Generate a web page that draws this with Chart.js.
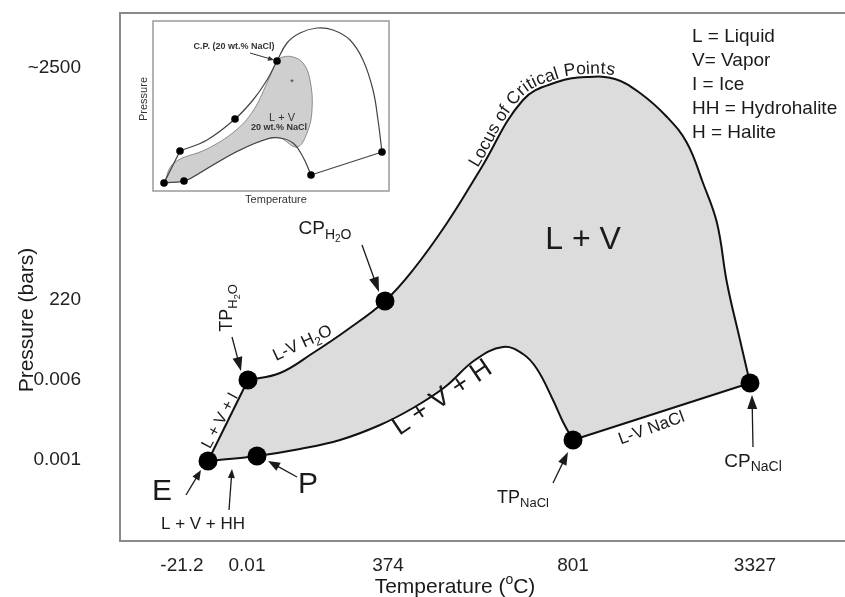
<!DOCTYPE html>
<html>
<head>
<meta charset="utf-8">
<script src="https://cdn.jsdelivr.net/npm/chart.js@4.4.1/dist/chart.umd.min.js"></script>
<style>
  body { margin: 0; background: #fff; }
  #wrap { position: relative; width: 845px; height: 597px; }
  #main { position: absolute; left: 0; top: 0; }
  #inset { position: absolute; left: 128px; top: 8px; }
</style>
</head>
<body>
<div id="wrap">
  <canvas id="main" width="845" height="597"></canvas>
  <canvas id="inset" width="272" height="205"></canvas>
</div>
<script>
// schematic axes (not to scale): one unit = 5 px of the original figure
const tempTicks = [12.4, 25.4, 53.6, 90.6, 127.0];
const tempLabels = ["-21.2", "0.01", "374", "801", "3327"];
const presTicks = [16.2, 32.2, 48.2, 94.6];
const presLabels = ["0.001", "0.006", "220", "~2500"];

// E -> TP H2O  (L + V + I)
const iceLine = [[17.6, 16.0], [25.6, 32.2]];
// TP H2O -> CP H2O -> locus of critical points -> CP NaCl
const criticalCurve = [
  [25.6, 32.2], [32.0, 33.6], [38.6, 37.6], [45.4, 42.2], [53.0, 48.0],
  [58.6, 54.2], [65.4, 63.6], [72.0, 74.2], [80.6, 88.2], [87.4, 91.8],
  [93.4, 92.8], [99.0, 92.4], [104.0, 89.6], [109.4, 84.8], [113.4, 79.6],
  [116.6, 71.6], [119.4, 63.6], [121.4, 51.6], [124.0, 40.2], [126.0, 31.6]
];
// CP NaCl -> TP NaCl  (L-V NaCl)
const naclLine = [[126.0, 31.6], [90.6, 20.2]];
// TP NaCl -> P -> E  (L + V + H)
const haliteCurve = [
  [90.6, 20.2], [88.6, 23.8], [86.6, 28.2], [83.4, 34.4], [80.6, 37.4],
  [76.6, 38.8], [71.0, 36.2], [65.0, 30.8], [58.6, 26.6], [52.0, 23.2],
  [44.0, 20.2], [36.0, 18.4], [27.4, 17.0], [17.6, 16.0]
];
// E, P, TP H2O, CP H2O, TP NaCl, CP NaCl
const keyPoints = [[17.6, 16.0], [27.4, 17.0], [25.6, 32.2], [53.0, 48.0], [90.6, 20.2], [126.0, 31.6]];

// inset (20 wt.% NaCl), units = px inside the inset frame
const insetUpper = [
  [27, 40], [54, 51], [82, 72], [100, 91], [114, 111], [124, 130], [134, 148],
  [147, 158], [164, 163], [180, 161], [197, 151], [210, 131], [220, 101],
  [225, 71], [229, 39]
];
const insetNaclLine = [[229, 39], [158, 16]];
const insetLower = [
  [158, 16], [150, 34], [140, 48], [127, 53], [114, 52], [87, 41],
  [60, 26], [40, 14], [31, 10], [11, 8]
];
const insetLeftLine = [[11, 8], [27, 40]];
const insetRegion = [
  [11, 8], [21, 28], [54, 42], [82, 60], [100, 80], [114, 108], [124, 130],
  [130, 134], [140, 134], [150, 128], [157, 111], [159, 81], [154, 58],
  [144, 44], [127, 53], [114, 52], [87, 41], [60, 26], [40, 14], [31, 10], [11, 8]
];
const insetPoints = [[11, 8], [31, 10], [27, 40], [82, 72], [124, 130], [158, 16], [229, 39]];

const FONT = "'Liberation Sans', Arial, Helvetica, sans-serif";
Chart.defaults.font.family = FONT;
Chart.defaults.color = "#222";

function toXY(arr) {
  return arr.map(p => ({ x: p[0], y: p[1] }));
}

function curve(arr, width, color) {
  return {
    data: toXY(arr), showLine: true, pointRadius: 0, borderColor: color,
    borderWidth: width, tension: 0.4, fill: false, order: 1
  };
}

// keep the plot area exactly where the frame is
function noPad(s) {
  s.paddingTop = 0; s.paddingBottom = 0; s.paddingLeft = 0; s.paddingRight = 0;
}

function arrow(ctx, x1, y1, x2, y2, head, half) {
  const a = Math.atan2(y2 - y1, x2 - x1);
  const c = Math.cos(a), s = Math.sin(a);
  ctx.beginPath();
  ctx.moveTo(x1, y1);
  ctx.lineTo(x2 - c * head * 0.8, y2 - s * head * 0.8);
  ctx.stroke();
  ctx.beginPath();
  ctx.moveTo(x2, y2);
  ctx.lineTo(x2 - c * head + s * half, y2 - s * head - c * half);
  ctx.lineTo(x2 - c * head - s * half, y2 - s * head + c * half);
  ctx.closePath();
  ctx.fill();
}

// parts: [text, size, dy, weight]
function drawParts(ctx, parts, cx, cy, angle) {
  ctx.save();
  ctx.translate(cx, cy);
  ctx.rotate(angle * Math.PI / 180);
  let w = 0;
  parts.forEach(p => {
    ctx.font = (p[3] || "") + " " + p[1] + "px " + FONT;
    w += ctx.measureText(p[0]).width;
  });
  const base = parts[0][1] * 0.36;
  let x = -w / 2;
  ctx.textAlign = "left";
  ctx.textBaseline = "alphabetic";
  parts.forEach(p => {
    ctx.font = (p[3] || "") + " " + p[1] + "px " + FONT;
    ctx.fillText(p[0], x, base + (p[2] || 0));
    x += ctx.measureText(p[0]).width;
  });
  ctx.restore();
}

// sample the bezier path Chart.js built for a line dataset
function datasetPath(elements) {
  const out = [];
  for (let i = 0; i < elements.length - 1; i++) {
    const a = elements[i], b = elements[i + 1];
    for (let k = 0; k < 20; k++) {
      const t = k / 20, u = 1 - t;
      out.push([
        u * u * u * a.x + 3 * u * u * t * a.cp2x + 3 * u * t * t * b.cp1x + t * t * t * b.x,
        u * u * u * a.y + 3 * u * u * t * a.cp2y + 3 * u * t * t * b.cp1y + t * t * t * b.y
      ]);
    }
  }
  const last = elements[elements.length - 1];
  out.push([last.x, last.y]);
  return out;
}

// write text along a path, just above it, ending where the path reaches endX
function textAlongPath(ctx, str, size, path, offset, endX) {
  const cum = [0];
  for (let i = 1; i < path.length; i++) {
    cum.push(cum[i - 1] + Math.hypot(path[i][0] - path[i - 1][0], path[i][1] - path[i - 1][1]));
  }
  const at = m => {
    let i = 1;
    while (i < path.length - 1 && cum[i] < m) i++;
    const t = (m - cum[i - 1]) / ((cum[i] - cum[i - 1]) || 1);
    return [path[i - 1][0] + (path[i][0] - path[i - 1][0]) * t,
            path[i - 1][1] + (path[i][1] - path[i - 1][1]) * t];
  };
  const endIdx = Math.max(1, path.findIndex(p => p[0] >= endX));
  ctx.save();
  ctx.font = size + "px " + FONT;
  ctx.textAlign = "center";
  ctx.textBaseline = "alphabetic";
  let s = cum[endIdx] - ctx.measureText(str).width;
  for (const ch of str) {
    const w = ctx.measureText(ch).width;
    const m = s + w / 2;
    const p = at(m), p1 = at(m - 6), p2 = at(m + 6);
    const ang = Math.atan2(p2[1] - p1[1], p2[0] - p1[0]);
    ctx.save();
    ctx.translate(p[0] + Math.sin(ang) * offset, p[1] - Math.cos(ang) * offset);
    ctx.rotate(ang);
    ctx.fillText(ch, 0, 0);
    ctx.restore();
    s += w;
  }
  ctx.restore();
}

const labelsPlugin = {
  id: "labels",
  afterDraw(chart) {
    const ctx = chart.ctx;
    ctx.save();
    ctx.fillStyle = "#1a1a1a";
    ctx.strokeStyle = "#1a1a1a";
    ctx.lineWidth = 1.3;

    // axis titles
    drawParts(ctx, [["Pressure (bars)", 21]], 25, 320, -90);
    drawParts(ctx, [["Temperature (", 21], ["o", 14, -9], ["C)", 21]], 455, 585, 0);

    // key
    ctx.font = "19px " + FONT;
    ctx.textAlign = "left";
    ctx.textBaseline = "middle";
    ["L = Liquid", "V= Vapor", "I = Ice", "HH = Hydrohalite", "H = Halite"].forEach((t, i) => {
      ctx.fillText(t, 692, 37 + i * 24);
    });

    // field and curve labels
    drawParts(ctx, [["L + V", 32]], 583, 237, 0);
    drawParts(ctx, [["L + V + H", 27]], 441, 396, -34);
    drawParts(ctx, [["L-V H", 17], ["2", 12, 4], ["O", 17]], 302, 342, -25);
    drawParts(ctx, [["L + V + I", 16]], 219, 420, -62);
    drawParts(ctx, [["L-V NaCl", 17]], 651, 427, -20);
    const locus = datasetPath(chart.getDatasetMeta(2).data);
    textAlongPath(ctx, "Locus of Critical Points", 17.5, locus, 3, 613);

    // point labels
    drawParts(ctx, [["CP", 19], ["H", 14, 5], ["2", 10, 8], ["O", 14, 5]], 325, 227, 0);
    drawParts(ctx, [["TP", 18], ["H", 13, 5], ["2", 9, 8], ["O", 13, 5]], 226, 308, -90);
    drawParts(ctx, [["TP", 18], ["NaCl", 13, 4]], 523, 497, 0);
    drawParts(ctx, [["CP", 19], ["NaCl", 14, 4]], 753, 460, 0);
    drawParts(ctx, [["E", 30]], 162, 489, 0);
    drawParts(ctx, [["P", 30]], 308, 482, 0);
    drawParts(ctx, [["L + V + HH", 17]], 203, 523, 0);

    // arrows
    arrow(ctx, 362, 245, 379, 292, 15, 5);
    arrow(ctx, 232, 337, 241, 371, 14, 5);
    arrow(ctx, 186, 495, 201, 470, 10, 4);
    arrow(ctx, 229, 510, 232, 469, 9, 3.5);
    arrow(ctx, 297, 477, 268, 461, 12, 4.5);
    arrow(ctx, 553, 483, 568, 452, 13, 4.5);
    arrow(ctx, 753, 447, 752, 395, 14, 5);
    ctx.restore();
  }
};

const fillLoop = [...iceLine, ...criticalCurve, ...naclLine, ...haliteCurve];

new Chart(document.getElementById("main"), {
  type: "scatter",
  data: {
    datasets: [
      { data: toXY(keyPoints), pointRadius: 9.5, pointHoverRadius: 9.5,
        pointBackgroundColor: "#000", pointBorderWidth: 0, showLine: false, order: 0 },
      curve(iceLine, 2, "#111"),
      curve(criticalCurve, 2, "#111"),
      curve(naclLine, 2, "#111"),
      curve(haliteCurve, 2, "#111"),
      { data: toXY(fillLoop), showLine: true, pointRadius: 0, borderWidth: 0,
        backgroundColor: "#dcdcdc", fill: "shape", tension: 0.4, order: 2 }
    ]
  },
  options: {
    responsive: false,
    animation: false,
    events: [],
    layout: { autoPadding: false, padding: { top: 13, right: 0, left: 0, bottom: 0 } },
    plugins: { legend: { display: false }, tooltip: { enabled: false } },
    scales: {
      x: {
        type: "linear", min: 0, max: 145,
        grid: { display: false },
        border: { color: "#8a8a8a", width: 2 },
        afterBuildTicks: s => { s.ticks = tempTicks.map(v => ({ value: v })); },
        afterFit: s => { s.height = 56; noPad(s); },
        ticks: { autoSkip: false, maxRotation: 0, padding: 5, font: { size: 19 },
          callback: (v, i) => tempLabels[i] }
      },
      x2: {
        type: "linear", position: "top", min: 0, max: 145,
        grid: { display: false },
        border: { color: "#8a8a8a", width: 2 },
        ticks: { display: false },
        afterFit: s => { s.height = 0; noPad(s); }
      },
      y: {
        type: "linear", min: 0, max: 105.6,
        grid: { display: false },
        border: { color: "#8a8a8a", width: 2 },
        afterBuildTicks: s => { s.ticks = presTicks.map(v => ({ value: v })); },
        afterFit: s => { s.width = 120; noPad(s); },
        ticks: { autoSkip: false, padding: 31, font: { size: 19 },
          callback: (v, i) => presLabels[i] }
      }
    }
  },
  plugins: [labelsPlugin]
});

const insetPlugin = {
  id: "insetFrame",
  beforeDraw(chart) {
    const a = chart.chartArea, ctx = chart.ctx;
    ctx.save();
    ctx.fillStyle = "#fff";
    ctx.fillRect(a.left, a.top, a.right - a.left, a.bottom - a.top);
    ctx.restore();
  },
  afterDraw(chart) {
    const a = chart.chartArea, ctx = chart.ctx;
    ctx.save();
    ctx.strokeStyle = "#9a9a9a";
    ctx.lineWidth = 1.5;
    ctx.strokeRect(a.left, a.top, a.right - a.left, a.bottom - a.top);
    ctx.fillStyle = "#333";
    ctx.strokeStyle = "#333";
    ctx.lineWidth = 1;
    drawParts(ctx, [["Pressure", 11]], 15, 91, -90);
    drawParts(ctx, [["Temperature", 11]], 148, 191, 0);
    drawParts(ctx, [["C.P. (20 wt.% NaCl)", 9, 0, "bold"]], 106, 38, 0);
    drawParts(ctx, [["L + V", 11]], 154, 109, 0);
    drawParts(ctx, [["20 wt.% NaCl", 9, 0, "bold"]], 151, 119, 0);
    drawParts(ctx, [["*", 9]], 164, 74, 0);
    arrow(ctx, 122, 45, 146, 52, 6, 2.5);
    ctx.restore();
  }
};

new Chart(document.getElementById("inset"), {
  type: "scatter",
  data: {
    datasets: [
      { data: toXY(insetPoints), pointRadius: 3.8, pointHoverRadius: 3.8,
        pointBackgroundColor: "#000", pointBorderWidth: 0, showLine: false, order: 0 },
      curve(insetUpper, 1.2, "#444"),
      curve(insetNaclLine, 1.2, "#444"),
      curve(insetLower, 1.2, "#444"),
      curve(insetLeftLine, 1.2, "#444"),
      { data: toXY(insetRegion), showLine: true, pointRadius: 0, borderWidth: 1,
        borderColor: "#8c8c8c", backgroundColor: "#cfcfcf", fill: "shape",
        tension: 0.4, order: 2 }
    ]
  },
  options: {
    responsive: false,
    animation: false,
    events: [],
    layout: { autoPadding: false, padding: { top: 13, right: 11, left: 0, bottom: 0 } },
    plugins: { legend: { display: false }, tooltip: { enabled: false } },
    scales: {
      x: { type: "linear", min: 0, max: 236, grid: { display: false },
        border: { display: false }, ticks: { display: false },
        afterFit: s => { s.height = 22; noPad(s); } },
      y: { type: "linear", min: 0, max: 170, grid: { display: false },
        border: { display: false }, ticks: { display: false },
        afterFit: s => { s.width = 25; noPad(s); } }
    }
  },
  plugins: [insetPlugin]
});
</script>
</body>
</html>
